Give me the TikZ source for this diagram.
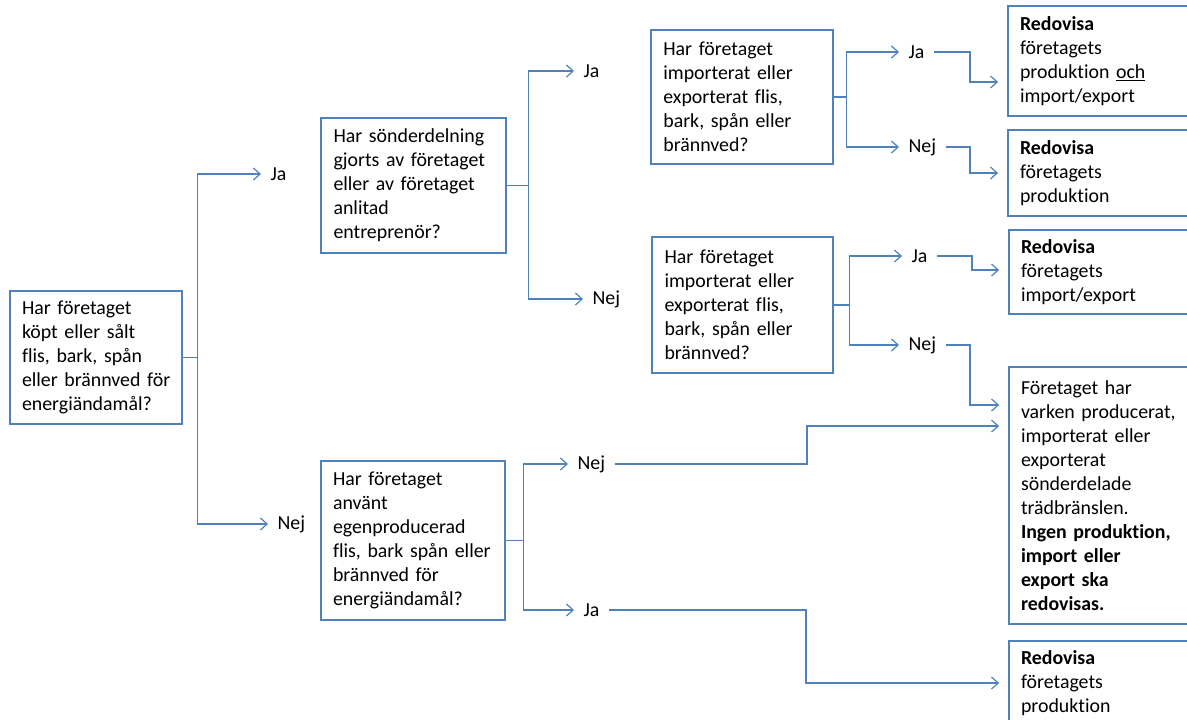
\documentclass[tikz,border=0pt]{standalone}
\usepackage{fontspec}
\setmainfont{Carlito}[Ligatures=NoCommon]
\usepackage{tikz}
\usetikzlibrary{arrows.meta}
\definecolor{boxblue}{RGB}{79,129,189}

\begin{document}
\begin{tikzpicture}[x=0.75pt,y=0.75pt,yscale=-1,xscale=1,
  qbox/.style={draw=boxblue,line width=0.9pt,align=left,inner xsep=9pt,inner ysep=0pt,font=\fontsize{14.9}{18}\selectfont},
  ansr/.style={anchor=west,inner xsep=7pt,inner ysep=2pt,font=\fontsize{14.9}{18}\selectfont},
  link/.style={draw=boxblue,line width=0.9pt},
  arr/.style={link,-{Straight Barb[length=5pt,width=9pt]}},
  ]
\useasboundingbox (0,0) rectangle (1187,719);
\clip (0,0) rectangle (1187,719);

% Question boxes
\node[qbox,minimum width=129pt,minimum height=99.75pt,text width=111pt] (qA) at (96,357.5)
  {Har företaget\\köpt eller sålt\\flis, bark, spån\\\mbox{eller brännved för}\\energiändamål?};
\node[qbox,minimum width=138.75pt,minimum height=101.25pt,text width=120pt] (qB) at (413.5,185.5)
  {Har sönderdelning\\gjorts av företaget\\eller av företaget\\anlitad\\entreprenör?};
\node[qbox,minimum width=136.5pt,minimum height=100.5pt,text width=118pt] (qC) at (742,97)
  {Har företaget\\importerat eller\\exporterat flis,\\bark, spån eller\\brännved?};
\node[qbox,minimum width=135.75pt,minimum height=102pt,text width=117pt] (qD) at (742.5,305)
  {Har företaget\\importerat eller\\exporterat flis,\\bark, spån eller\\brännved?};
\node[qbox,minimum width=138pt,minimum height=119.25pt,text width=120pt] (qE) at (413,540.5)
  {Har företaget\\använt\\egenproducerad\\flis, bark spån eller\\brännved för\\energiändamål?};

% Result boxes
\node[qbox,minimum width=150pt,minimum height=82.5pt,text width=132pt] (rA) at (1108,61)
  {\textbf{Redovisa}\\företagets\\produktion \underline{och}\\import/export};
\node[qbox,minimum width=150pt,minimum height=64.5pt,text width=132pt] (rB) at (1108,173)
  {\textbf{Redovisa}\\företagets\\produktion};
\node[qbox,minimum width=150pt,minimum height=63pt,text width=132pt] (rC) at (1109,272)
  {\textbf{Redovisa}\\företagets\\import/export};
\node[qbox,minimum width=150pt,minimum height=192.75pt,text width=132pt] (rD) at (1109,495.5)
  {Företaget har\\varken producerat,\\importerat eller\\exporterat\\sönderdelade\\trädbränslen.\\\textbf{Ingen produktion,}\\\textbf{import eller}\\\textbf{export ska}\\\textbf{redovisas.}};
\node[qbox,minimum width=150pt,minimum height=63pt,text width=132pt] (rE) at (1109,683)
  {\textbf{Redovisa}\\företagets\\produktion};

% Answer labels
\node[ansr] (jaA) at (261,174) {Ja};
\node[ansr] (nejA) at (268,524) {Nej};
\node[ansr] (jaB) at (574,71) {Ja};
\node[ansr] (nejB) at (583,299) {Nej};
\node[ansr] (jaC) at (899,52) {Ja};
\node[ansr] (nejC) at (899,147) {Nej};
\node[ansr] (jaD) at (902,256) {Ja};
\node[ansr] (nejD) at (899,345) {Nej};
\node[ansr] (nejE) at (568,464) {Nej};
\node[ansr] (jaE) at (574,610) {Ja};

% Elbows towards the result boxes
\coordinate (kC1) at (970,82);
\coordinate (kC2) at (970,173);
\coordinate (kD1) at (972,270);
\coordinate (kD2) at (970,405);
\coordinate (kE1) at (807,426);
\coordinate (kE2) at (806,683);

% Forks
\draw[arr] (qA.east) -- ++(15,0) |- (jaA.west);
\draw[arr] (qA.east) -- ++(15,0) |- (nejA.west);
\draw[arr] (qB.east) -- ++(22,0) |- (jaB.west);
\draw[arr] (qB.east) -- ++(22,0) |- (nejB.west);
\draw[arr] (qC.east) -- ++(13,0) |- (jaC.west);
\draw[arr] (qC.east) -- ++(13,0) |- (nejC.west);
\draw[arr] (qD.east) -- ++(16,0) |- (jaD.west);
\draw[arr] (qD.east) -- ++(16,0) |- (nejD.west);
\draw[arr] (qE.east) -- ++(18,0) |- (nejE.west);
\draw[arr] (qE.east) -- ++(18,0) |- (jaE.west);

% Answers to results
\draw[arr,shorten >=7pt] (jaC.east) -| (kC1) -- (kC1 -| rA.west);
\draw[arr,shorten >=7pt] (nejC.east) -| (kC2) -- (kC2 -| rB.west);
\draw[arr,shorten >=7pt] (jaD.east) -| (kD1) -- (kD1 -| rC.west);
\draw[arr,shorten >=7pt] (nejD.east) -| (kD2) -- (kD2 -| rD.west);
\draw[arr,shorten >=7pt] (nejE.east) -| (kE1) -- (kE1 -| rD.west);
\draw[arr,shorten >=7pt] (jaE.east) -| (kE2) -- (kE2 -| rE.west);

\end{tikzpicture}
\end{document}
